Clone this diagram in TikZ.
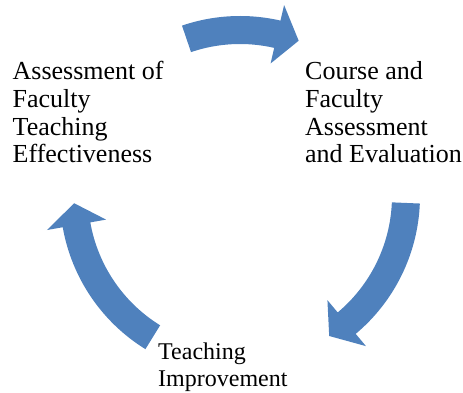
\documentclass[tikz,border=0pt]{standalone}
\usepackage{fontspec}
\setmainfont{Liberation Serif}
\usetikzlibrary{calc}
\definecolor{arrowblue}{HTML}{4F81BD}
\tikzset{
  cyclelabel/.style={anchor=base west, align=left, inner sep=0pt, font=\fontsize{26}{27.7}\selectfont},
  smalllabel/.style={anchor=base west, align=left, inner sep=0pt, font=\fontsize{24}{26.7}\selectfont},
  blockarrow/.style={fill=arrowblue, draw=none}
}
% #2 tail angle, #3 head base angle, #4 tip angle
\newcommand{\cyclearrow}[4][]{%
  \fill[blockarrow,#1] ($(c)+(#2:180pt)$) arc[start angle=#2, end angle=#3, radius=180pt]
    -- ($(c)+(#3:196pt)$) -- ($(c)+(#4:166pt)$) -- ($(c)+(#3:136pt)$)
    -- ($(c)+(#3:152pt)$) arc[start angle=#3, end angle=#2, radius=152pt] -- cycle;}
\begin{document}
\begin{tikzpicture}[x=1pt,y=1pt]
\useasboundingbox (0,0) rectangle (463,393);
\coordinate (c) at (240,197);
\cyclearrow{108.8}{77}{69.3}
\cyclearrow{-2.4}{-50}{-57.5}
\cyclearrow{238.3}{190}{182.5}
\node[cyclelabel] (assess) at (12.5,230) {Assessment of\\Faculty\\Teaching\\Effectiveness};
\node[cyclelabel] (course) at (305,230) {Course and\\Faculty\\Assessment\\and Evaluation};
\node[smalllabel] (improve) at (158,6.3) {Teaching\\Improvement};
\end{tikzpicture}
\end{document}
